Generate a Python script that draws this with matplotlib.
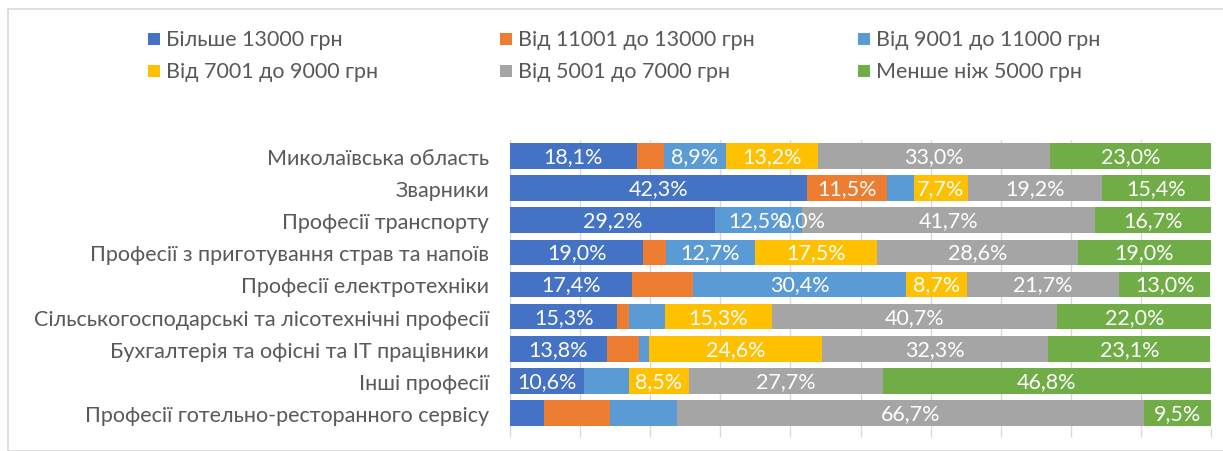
import matplotlib
matplotlib.use("Agg")
import matplotlib.pyplot as plt
from matplotlib.patches import Rectangle
import numpy as np

plt.rcParams['font.family'] = ['Lato', 'DejaVu Sans']

categories = [
    "Миколаївська область",
    "Зварники",
    "Професії транспорту",
    "Професії з приготування страв та напоїв",
    "Професії електротехніки",
    "Сільськогосподарські та лісотехнічні професії",
    "Бухгалтерія та офісні та IT працівники",
    "Інші професії",
    "Професії готельно-ресторанного сервісу",
]
series_names = [
    "Більше 13000 грн",
    "Від 11001 до 13000 грн",
    "Від 9001 до 11000 грн",
    "Від 7001 до 9000 грн",
    "Від 5001 до 7000 грн",
    "Менше ніж 5000 грн",
]
s_gt13000 = [18.1, 42.3, 29.2, 19.0, 17.4, 15.3, 13.8, 10.6, 4.8]
s_11001_13000 = [3.8, 11.5, 0.0, 3.2, 8.7, 1.7, 4.6, 0.0, 9.5]
s_9001_11000 = [8.9, 3.8, 12.5, 12.7, 30.4, 5.1, 1.5, 6.4, 9.5]
s_7001_9000 = [13.2, 7.7, 0.0, 17.5, 8.7, 15.3, 24.6, 8.5, 0.0]
s_5001_7000 = [33.0, 19.2, 41.7, 28.6, 21.7, 40.7, 32.3, 27.7, 66.7]
s_lt5000 = [23.0, 15.4, 16.7, 19.0, 13.0, 22.0, 23.1, 46.8, 9.5]
series = [s_gt13000, s_11001_13000, s_9001_11000, s_7001_9000, s_5001_7000, s_lt5000]

# which data labels are displayed (per series, per category)
show_labels = [
    [1, 1, 1, 1, 1, 1, 1, 1, 0],
    [0, 1, 0, 0, 0, 0, 0, 0, 0],
    [1, 0, 1, 1, 1, 0, 0, 0, 0],
    [1, 1, 1, 1, 1, 1, 1, 1, 0],
    [1, 1, 1, 1, 1, 1, 1, 1, 1],
    [1, 1, 1, 1, 1, 1, 1, 1, 1],
]
colors = ["#4472C4", "#ED7D31", "#5B9BD5", "#FFC000", "#A5A5A5", "#70AD47"]

W, H = 1223, 452
fig = plt.figure(figsize=(W / 100, H / 100), dpi=100)
fig.patch.set_facecolor("white")

# chart frame (only top and left edges visible)
fig.add_artist(Rectangle((8 / W, 0), 1.2, 1 - 10 / H, transform=fig.transFigure,
                         fill=False, edgecolor="#D9D9D9", lw=1.2, clip_on=False))

ax_l, ax_r, ax_t, ax_b = 510, 1211, 141, 430
ax = fig.add_axes([ax_l / W, 1 - ax_b / H, (ax_r - ax_l) / W, (ax_b - ax_t) / H])

y = np.arange(len(categories))
left = np.zeros(len(categories))
fs = 15.5
for si, (vals, col) in enumerate(zip(series, colors)):
    vals = np.array(vals)
    ax.barh(y, vals, left=left, height=0.8, color=col, zorder=3)
    for ci, v in enumerate(vals):
        if show_labels[si][ci]:
            ax.text(left[ci] + v / 2, y[ci], f"{v:.1f}%".replace(".", ","),
                    ha="center", va="center", color="white", fontsize=fs, zorder=4)
    left = left + vals

ax.set_xlim(0, 100)
ax.set_ylim(len(categories) - 0.5, -0.5)
ax.set_xticks(np.arange(0, 101, 10))
ax.set_xticklabels([])
ax.tick_params(axis="x", direction="out", length=6, color="#D9D9D9", width=1)
ax.grid(axis="x", color="#D9D9D9", lw=1, zorder=0)
ax.set_yticks(y)
ax.set_yticklabels(categories, fontsize=fs, color="#595959")
ax.tick_params(axis="y", length=0, pad=15)
for s in ["top", "right", "bottom"]:
    ax.spines[s].set_visible(False)
ax.spines["left"].set_color("#D9D9D9")

# legend
col_x = [148, 500, 858]
row_y = [40, 72]
for i, (name, col) in enumerate(zip(series_names, colors)):
    r, c = divmod(i, 3)
    x0 = col_x[c]
    yc = row_y[r]
    fig.add_artist(Rectangle((x0 / W, 1 - (yc + 6) / H), 12 / W, 12 / H,
                             transform=fig.transFigure, facecolor=col, edgecolor="none"))
    fig.text((x0 + 18) / W, 1 - yc / H, name, fontsize=fs, color="#595959",
             ha="left", va="center")

fig.savefig("out.png", dpi=100)
